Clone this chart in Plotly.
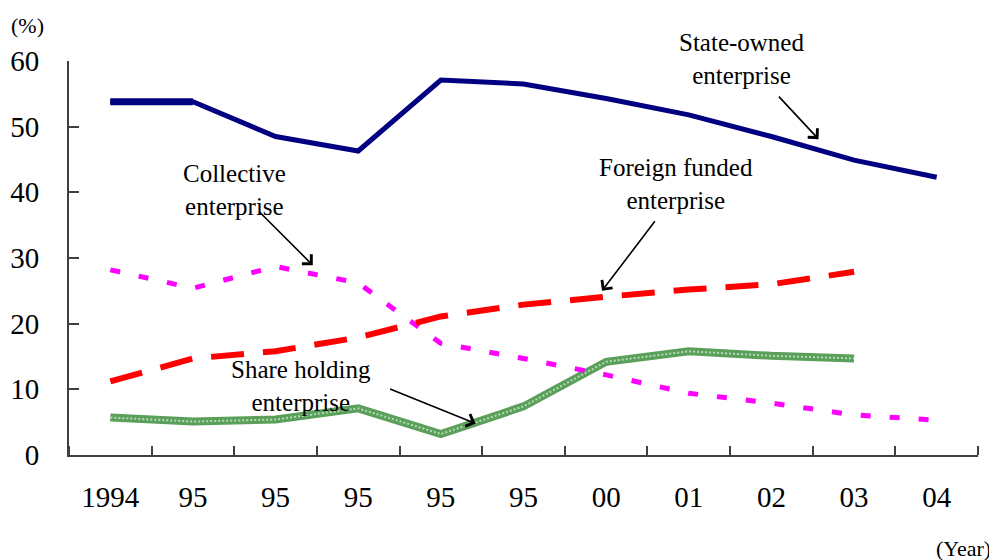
import plotly.graph_objects as go

# ---- data ----
x_labels = ["1994", "95", "95", "95", "95", "95", "00", "01", "02", "03", "04"]
state_owned = [53.8, 53.8, 48.5, 46.3, 57.1, 56.5, 54.3, 51.8, 48.5, 44.9, 42.3]
foreign_funded = [11.2, 14.7, 15.8, 17.9, 21.1, 22.9, 24.1, 25.2, 26.0, 27.9]
collective = [28.2, 25.4, 28.7, 26.2, 17.0, 14.7, 12.2, 9.4, 7.9, 6.1, 5.3]
share_holding = [5.7, 5.1, 5.4, 7.1, 3.2, 7.4, 14.2, 15.8, 15.1, 14.7]
y_ticks = [0, 10, 20, 30, 40, 50, 60]

FONT = "Liberation Serif"
pos = list(range(len(x_labels)))

fig = go.Figure()

# share holding (textured green)
fig.add_trace(go.Scatter(x=pos[:len(share_holding)], y=share_holding, mode="lines",
                         line=dict(color="#5a9f5a", width=8), hoverinfo="skip"))
fig.add_trace(go.Scatter(x=pos[:len(share_holding)], y=share_holding, mode="lines",
                         line=dict(color="#b5dbb5", width=2, dash="2px,2px"), hoverinfo="skip"))
# collective (magenta dotted)
fig.add_trace(go.Scatter(x=pos, y=collective, mode="lines",
                         line=dict(color="#ff00ff", width=5, dash="10px,19px"), hoverinfo="skip"))
# foreign funded (red dashed)
fig.add_trace(go.Scatter(x=pos[:len(foreign_funded)], y=foreign_funded, mode="lines",
                         line=dict(color="#ff0000", width=6, dash="33px,19px"), hoverinfo="skip"))
# state owned (navy solid)
fig.add_trace(go.Scatter(x=pos, y=state_owned, mode="lines",
                         line=dict(color="#000080", width=5), hoverinfo="skip"))
fig.add_trace(go.Scatter(x=pos[:2], y=state_owned[:2], mode="lines",
                         line=dict(color="#000080", width=7), hoverinfo="skip"))

axis_color = "#404040"
fig.update_xaxes(range=[-0.5, 10.5], tickmode="array", tickvals=pos, ticktext=x_labels,
                 ticks="", showline=True, linecolor=axis_color, linewidth=2,
                 showgrid=False, zeroline=False, ticklabelstandoff=15, automargin=False,
                 tickfont=dict(family=FONT, size=29, color="black"),
                 minor=dict(ticks="inside", tickmode="linear", tick0=0.5, dtick=1,
                            ticklen=9, tickwidth=2, tickcolor=axis_color, showgrid=False))
fig.update_yaxes(range=[0, 60], tickmode="array", tickvals=y_ticks,
                 ticks="inside", ticklen=10, tickwidth=2, tickcolor=axis_color,
                 showline=True, linecolor=axis_color, linewidth=2, automargin=False,
                 showgrid=False, zeroline=False, ticklabelstandoff=22,
                 tickfont=dict(family=FONT, size=29, color="black"))

LBL = dict(family=FONT, size=25, color="black")

def label(x, y, text, ref="data"):
    if ref == "data":
        fig.add_annotation(x=x, y=y, xref="x", yref="y", text=text, showarrow=False,
                           font=LBL, align="center")
    else:
        fig.add_annotation(x=x, y=y, xref="paper", yref="paper", text=text, showarrow=False,
                           font=LBL, align="center", xanchor="center", yanchor="middle")

def arrow(x, y, ax, ay):
    fig.add_annotation(x=x, y=y, xref="x", yref="y", text="", showarrow=True,
                       ax=ax, ay=ay, arrowhead=4, arrowsize=1.6, arrowwidth=1.6,
                       arrowcolor="black")

label(0.740, 1.005, "State-owned<br>enterprise", ref="paper")
arrow(8.57, 48.1, -41, -44)
label(6.84, 41.3, "Foreign funded<br>enterprise")
arrow(5.95, 25.0, 54, -71)
label(1.505, 40.4, "Collective<br>enterprise")
arrow(2.45, 28.9, -55, -55)
label(2.31, 10.5, "Share holding<br>enterprise")
arrow(4.42, 4.8, -87, -35)

# plot area in page px: x 69..978, y 61..455 (page has an 8px body margin)
fig.add_annotation(x=0, y=1, xref="paper", yref="paper", xanchor="center", yanchor="middle",
                   text="(%)", showarrow=False, font=dict(family=FONT, size=22, color="black"),
                   xshift=(27 - 69), yshift=(61 - 25))
fig.add_annotation(x=1.0, y=0, xref="paper", yref="paper", xanchor="center", yanchor="middle",
                   text="(Year)", showarrow=False,
                   font=dict(family=FONT, size=22, color="black"),
                   xshift=(963 - 978), yshift=-(548 - 455))
fig.add_annotation(x=0, y=0, xref="paper", yref="paper", xanchor="left", yanchor="top",
                   text="*) China Statistical Yearbook", showarrow=False,
                   font=dict(family=FONT, size=22, color="black"),
                   xshift=(38 - 69), yshift=-(553 - 455))

fig.update_layout(width=997, height=560, margin=dict(l=61, r=27, t=53, b=113),
                  plot_bgcolor="white", paper_bgcolor="white", showlegend=False)

fig.write_html("out.html")
